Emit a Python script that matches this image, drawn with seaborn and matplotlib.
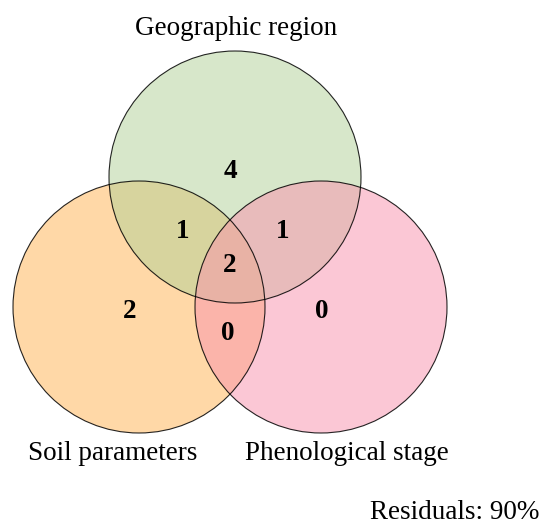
import matplotlib
matplotlib.use("Agg")
import matplotlib.pyplot as plt
from matplotlib.patches import Circle
import seaborn as sns

# data
set_names = ["Geographic region", "Soil parameters", "Phenological stage"]
region_keys = ["100", "010", "001", "110", "101", "011", "111"]
region_counts = [4, 2, 0, 1, 1, 0, 2]
residual_pct = 90

# layout (pixel coords, y downward)
W, H = 542, 528
radius = 126
centers = [(235, 177), (139, 307), (321, 307)]
fills = ["#b1d197", "#ffb351", "#f991ad"]
draw_order = [1, 0, 2]  # orange, green, pink
label_pos = {
    "100": (230, 172), "010": (130, 311), "001": (322, 312),
    "110": (183, 231), "101": (283, 231), "011": (228, 333),
    "111": (230, 266),
}
name_pos = [(236, 35), (113, 460), (347, 460)]

sns.set_theme(style="white")
plt.rcParams['font.family'] = ['Liberation Serif', 'DejaVu Serif']
plt.rcParams['text.color'] = 'black'

fig = plt.figure(figsize=(W / 100, H / 100), dpi=100)
ax = fig.add_axes([0, 0, 1, 1])
ax.set_xlim(0, W)
ax.set_ylim(H, 0)
ax.set_aspect("equal")
ax.axis("off")

for i in draw_order:
    ax.add_patch(Circle(centers[i], radius, facecolor=fills[i], alpha=0.5,
                        edgecolor="none"))
for (cx, cy) in centers:
    ax.add_patch(Circle((cx, cy), radius, facecolor="none",
                        edgecolor="black", lw=0.8, alpha=0.85))

for key, n in zip(region_keys, region_counts):
    x, y = label_pos[key]
    ax.text(x, y, str(n), ha="center", va="center", fontsize=19.5,
            fontweight="bold", color="black")

for name, (x, y) in zip(set_names, name_pos):
    ax.text(x, y, name, ha="center", va="baseline", fontsize=19.5,
            color="black")

ax.text(W - 3, 519, f"Residuals: {residual_pct}%", ha="right",
        va="baseline", fontsize=19.5, color="black")

fig.savefig("out.png", dpi=100)
